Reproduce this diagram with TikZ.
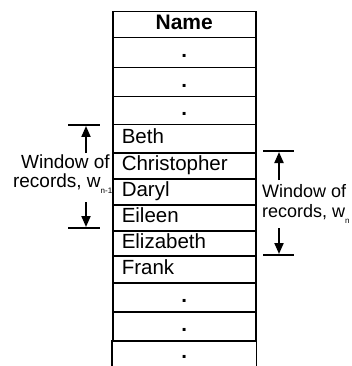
\documentclass[tikz,border=0pt]{standalone}
\usepackage{fontspec}
\setmainfont{Liberation Sans}
\usetikzlibrary{arrows.meta}
\begin{document}
\begin{tikzpicture}[x=1pt,y=-1pt,
  cell/.style={draw, line width=1.5pt, anchor=north west, inner xsep=9pt, inner ysep=0pt,
    text width=125pt, text height=14pt, text depth=4pt, font=\fontsize{20.5}{22}\selectfont},
  namecell/.style={cell, align=left},
  dotcell/.style={cell, align=center},
  opencell/.style={dotcell, draw=none},
  headcell/.style={cell, align=center, font=\fontsize{21}{22}\selectfont\bfseries},
  bar/.style={line width=2pt},
  winarrow/.style={line width=2pt, -{Triangle[width=9pt,length=11pt]}},
  lbl/.style={inner sep=0pt, font=\fontsize{19}{20}\selectfont},
  rlbl/.style={inner sep=0pt, font=\fontsize{18}{20}\selectfont}]
\useasboundingbox (0,0) rectangle (351,366);
\node[headcell, minimum height=26pt] (r0) at (112,11) {Name};
\node[dotcell, minimum height=30pt] (r1) at (112,37) {\textbf{.}};
\node[dotcell, minimum height=29pt] (r2) at (112,67) {\textbf{.}};
\node[dotcell, minimum height=28pt] (r3) at (112,96) {\textbf{.}};
\node[namecell, minimum height=28pt] (r4) at (112,124) {Beth};
\node[namecell, minimum height=26pt] (r5) at (112,152) {Christopher};
\node[namecell, minimum height=26pt] (r6) at (112,178) {Daryl};
\node[namecell, minimum height=26pt] (r7) at (112,204) {Eileen};
\node[namecell, minimum height=25pt] (r8) at (112,230) {Elizabeth};
\node[namecell, minimum height=27pt] (r9) at (112,255) {Frank};
\node[dotcell, minimum height=29pt] (r10) at (112,282) {\textbf{.}};
\node[dotcell, minimum height=29pt] (r11) at (112,311) {\textbf{.}};
\node[opencell, minimum height=26pt] (r12) at (112,340) {\textbf{.}};
\draw[line width=1.5pt] (r12.north west) -- (r12.south west);
\draw[line width=1.5pt] (r12.north east) -- (r12.south east);
% left window
\coordinate (la1) at (68,125); \coordinate (la2) at (100,125);
\coordinate (lb1) at (68,228); \coordinate (lb2) at (100,228);
\coordinate (lt) at (86,153); \coordinate (lth) at (86,126);
\coordinate (ld) at (86,202); \coordinate (ldh) at (86,227);
\draw[bar] (la1) -- (la2);
\draw[bar] (lb1) -- (lb2);
\draw[winarrow] (lt) -- (lth);
\draw[winarrow] (ld) -- (ldh);
\node[lbl, anchor=base east] (ll1) at (110,168) {Window of};
\node[lbl, anchor=base east] (ll2) at (112.5,187) {records, w\raisebox{-6.5pt}{\fontsize{8}{8}\selectfont n-1}};
% right window
\coordinate (ra1) at (263,151); \coordinate (ra2) at (294,151);
\coordinate (rb1) at (263,255); \coordinate (rb2) at (294,255);
\coordinate (rt) at (279,180); \coordinate (rth) at (279,152);
\coordinate (rd) at (279,228); \coordinate (rdh) at (279,254);
\draw[bar] (ra1) -- (ra2);
\draw[bar] (rb1) -- (rb2);
\draw[winarrow] (rt) -- (rth);
\draw[winarrow] (rd) -- (rdh);
\node[rlbl, anchor=base west] (rl1) at (262,197) {Window of};
\node[rlbl, anchor=base west] (rl2) at (262,217) {records, w\raisebox{-6.5pt}{\fontsize{8}{8}\selectfont n}};
\end{tikzpicture}
\end{document}
